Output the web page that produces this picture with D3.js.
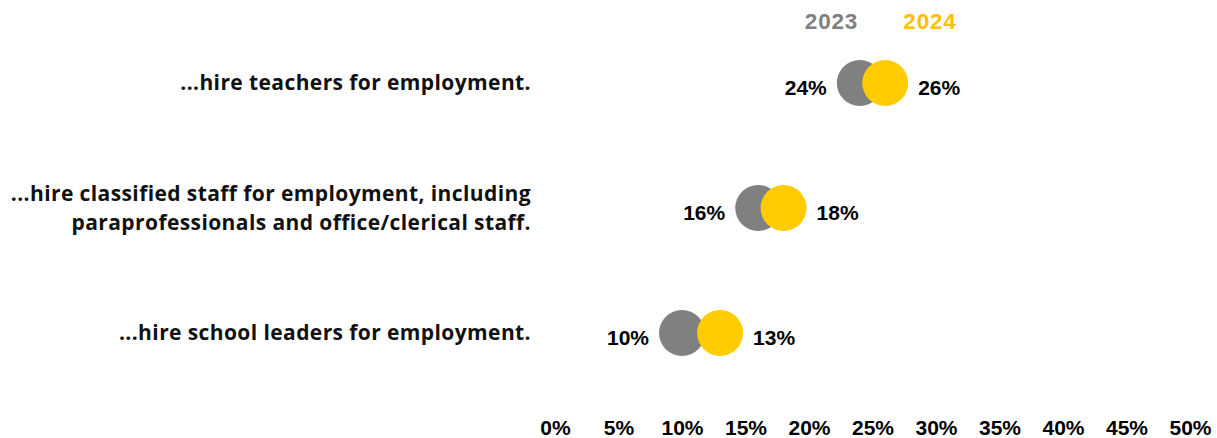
<!DOCTYPE html>
<html>
<head>
<meta charset="utf-8">
<script src="https://cdn.jsdelivr.net/npm/d3@7/dist/d3.min.js"></script>
<style>
  html, body { margin: 0; padding: 0; background: #ffffff; }
  svg { display: block; }
</style>
</head>
<body>
<svg id="chart" width="1217" height="438"></svg>
<script>
// Share of respondents, by hiring activity
const categories = [
  ["...hire teachers for employment."],
  ["...hire classified staff for employment, including", "paraprofessionals and office/clerical staff."],
  ["...hire school leaders for employment."]
];
const years = ["2023", "2024"];
const values2023 = [24, 16, 10];
const values2024 = [26, 18, 13];
const xTicks = [0, 5, 10, 15, 20, 25, 30, 35, 40, 45, 50];

const colors = { "2023": "#808080", "2024": "#FFCC00" };
const legendColors = { "2023": "#808080", "2024": "#FFC000" };

const svg = d3.select("#chart");
const x = d3.scaleLinear().domain([0, 50]).range([555, 1190]);
const y = d3.scalePoint().domain(d3.range(categories.length)).range([83, 333]);
const r = 23;

const rows = categories.map((lines, i) => ({ i, lines, v23: values2023[i], v24: values2024[i] }));

// Category labels, right-aligned
const catFont = "'Open Sans', 'Noto Sans', sans-serif";
rows.forEach(d => {
  const n = d.lines.length;
  const lineH = 29;
  d.lines.forEach((t, k) => {
    svg.append("text")
      .attr("x", 531)
      .attr("y", y(d.i) + (k - (n - 1) / 2) * lineH)
      .attr("dy", "0.35em")
      .attr("text-anchor", "end")
      .attr("font-family", catFont)
      .attr("font-weight", 700)
      .attr("font-size", 21)
      .attr("letter-spacing", 0.4)
      .attr("fill", "#111")
      .text(t);
  });
});

// Dots: 2023 first, 2024 drawn over it
const g = svg.append("g");
g.selectAll("circle.y2023").data(rows).join("circle")
  .attr("class", "y2023")
  .attr("cx", d => x(d.v23)).attr("cy", d => y(d.i)).attr("r", r)
  .attr("fill", colors["2023"]);
g.selectAll("circle.y2024").data(rows).join("circle")
  .attr("class", "y2024")
  .attr("cx", d => x(d.v24)).attr("cy", d => y(d.i)).attr("r", r)
  .attr("fill", colors["2024"]);

// Value labels
const valFont = "'Liberation Sans', Arial, sans-serif";
g.selectAll("text.l2023").data(rows).join("text")
  .attr("class", "l2023")
  .attr("x", d => x(d.v23) - r - 10)
  .attr("y", d => y(d.i) + 5)
  .attr("dy", "0.35em")
  .attr("text-anchor", "end")
  .attr("font-family", valFont).attr("font-weight", 700).attr("font-size", 21)
  .attr("fill", "#000")
  .text(d => d.v23 + "%");
g.selectAll("text.l2024").data(rows).join("text")
  .attr("class", "l2024")
  .attr("x", d => x(d.v24) + r + 10)
  .attr("y", d => y(d.i) + 5)
  .attr("dy", "0.35em")
  .attr("text-anchor", "start")
  .attr("font-family", valFont).attr("font-weight", 700).attr("font-size", 21)
  .attr("fill", "#000")
  .text(d => d.v24 + "%");

// Legend
const legendX = { "2023": 831.5, "2024": 930 };
years.forEach(yr => {
  svg.append("text")
    .attr("x", legendX[yr]).attr("y", 21.5).attr("dy", "0.35em")
    .attr("text-anchor", "middle")
    .attr("font-family", valFont).attr("font-weight", 700).attr("font-size", 22.5)
    .attr("letter-spacing", 0.8)
    .attr("fill", legendColors[yr])
    .text(yr);
});

// Bottom axis (labels only)
const axis = d3.axisBottom(x).tickValues(xTicks).tickFormat(d => d + "%").tickSize(0).tickPadding(0);
const ax = svg.append("g").attr("transform", "translate(0,427.5)").call(axis);
ax.select(".domain").remove();
ax.selectAll("text")
  .attr("font-family", valFont).attr("font-weight", 700).attr("font-size", 21)
  .attr("fill", "#000").attr("dy", "0.35em").attr("y", 0);
</script>
</body>
</html>
